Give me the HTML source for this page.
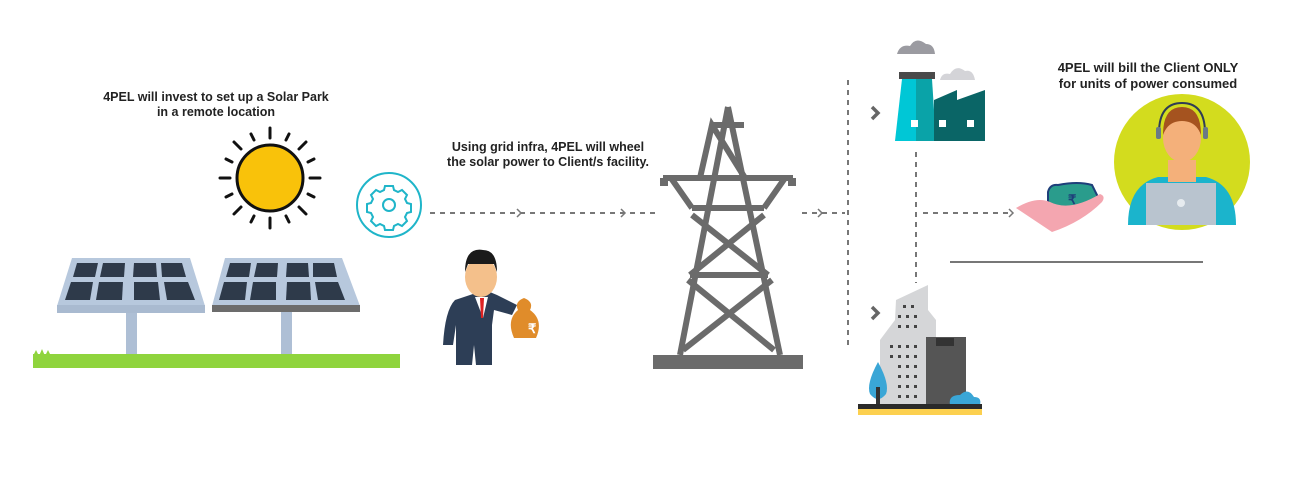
<!DOCTYPE html>
<html><head><meta charset="utf-8"><style>
body{margin:0;background:#fff;}
svg{display:block}
text{font-family:"Liberation Sans",Arial,sans-serif;font-weight:bold;fill:#222;}
</style></head><body>
<svg width="1300" height="500" viewBox="0 0 1300 500" xmlns="http://www.w3.org/2000/svg">
<text x="216" y="101" font-size="12.5" text-anchor="middle">4PEL will invest to set up a Solar Park</text>
<text x="216" y="116" font-size="12.5" text-anchor="middle">in a remote location</text>
<text x="548" y="151" font-size="12.5" text-anchor="middle">Using grid infra, 4PEL will wheel</text>
<text x="548" y="166" font-size="12.5" text-anchor="middle">the solar power to Client/s facility.</text>
<text x="1148" y="72" font-size="13" text-anchor="middle">4PEL will bill the Client ONLY</text>
<text x="1148" y="88" font-size="13" text-anchor="middle">for units of power consumed</text>

<!-- sun -->
<g stroke="#111" stroke-width="3" stroke-linecap="round">
<line x1="270" y1="128" x2="270" y2="138"/><line x1="270" y1="218" x2="270" y2="228"/>
<line x1="220" y1="178" x2="230" y2="178"/><line x1="310" y1="178" x2="320" y2="178"/>
<line x1="234" y1="142" x2="241" y2="149"/><line x1="299" y1="207" x2="306" y2="214"/>
<line x1="234" y1="214" x2="241" y2="207"/><line x1="299" y1="149" x2="306" y2="142"/>
<line x1="251" y1="134" x2="254" y2="140"/><line x1="289" y1="134" x2="286" y2="140"/>
<line x1="251" y1="222" x2="254" y2="216"/><line x1="289" y1="222" x2="286" y2="216"/>
<line x1="226" y1="159" x2="232" y2="162"/><line x1="314" y1="159" x2="308" y2="162"/>
<line x1="226" y1="197" x2="232" y2="194"/><line x1="314" y1="197" x2="308" y2="194"/>
</g>
<circle cx="270" cy="178" r="33" fill="#f9c20a" stroke="#111" stroke-width="3"/>

<!-- gear circle -->
<circle cx="389" cy="205" r="32" fill="#fff" stroke="#1fb5c9" stroke-width="2"/>
<g fill="none" stroke="#1fb5c9" stroke-width="2">
<circle cx="389" cy="205" r="6"/>
<path d="M385 186h8l1 4 4 2 4-2 5 5-2 4 2 4 4 1v8l-4 1-2 4 2 4-5 5-4-2-4 2-1 4h-8l-1-4-4-2-4 2-5-5 2-4-2-4-4-1v-8l4-1 2-4-2-4 5-5 4 2 4-2z"/>
</g>

<!-- solar panels -->
<rect x="126" y="310" width="11" height="50" fill="#aebfd5"/>
<rect x="281" y="310" width="11" height="50" fill="#aebfd5"/>
<polygon points="72,258 190,258 205,306 57,306" fill="#b7c8dd"/>
<rect x="57" y="305" width="148" height="8" fill="#a9bad0"/>
<polygon points="225,258 342,258 360,306 212,306" fill="#b7c8dd"/>
<rect x="212" y="305" width="148" height="7" fill="#6c6c6c"/>
<g fill="#2e3a4a">
<polygon points="77,263 98,263 95,277 73,277"/><polygon points="103,263 125,263 124,277 100,277"/>
<polygon points="134,263 156,263 157,277 133,277"/><polygon points="161,263 182,263 186,277 162,277"/>
<polygon points="71,282 93,282 90,300 65,300"/><polygon points="99,282 123,282 122,300 96,300"/>
<polygon points="134,282 158,282 160,300 134,300"/><polygon points="164,282 188,282 195,300 167,300"/>
<polygon points="230,263 251,263 249,277 226,277"/><polygon points="257,263 278,263 277,277 254,277"/>
<polygon points="287,263 308,263 309,277 286,277"/><polygon points="313,263 334,263 337,277 313,277"/>
<polygon points="224,282 247,282 245,300 219,300"/><polygon points="253,282 276,282 276,300 250,300"/>
<polygon points="287,282 310,282 311,300 286,300"/><polygon points="315,282 338,282 345,300 318,300"/>
</g>
<rect x="33" y="354" width="367" height="14" fill="#8fd43d"/>
<path d="M33 356 l3 -6 3 6 3 -7 3 7 3 -6 3 6" fill="#8fd43d"/>

<!-- businessman -->
<g>
<path d="M455 300 q-10 10 -12 45 l10 0 l3-20 l0 40 h16 l2-20 l2 20 h16 l0-40 l2-15 18 5 5-10 -20-10 -12-5z" fill="#2d3e56"/>
<polygon points="475,297 488,297 483,318" fill="#fff"/>
<polygon points="480,298 484,298 483,318 481,318" fill="#d22"/>
<ellipse cx="481" cy="277" rx="16" ry="20" fill="#f4c08b"/>
<path d="M465 272 q0-25 18-22 q14 0 14 22 l-3-8 q-10 0 -26 0z" fill="#1a1a1a"/>
<path d="M518 310 q-4 -8 6 -12 q10 4 6 12 q14 10 6 28 h-22 q-8-18 4-28z" fill="#e08c2a"/>
<text x="528" y="333" font-size="13" style="fill:#fff">₹</text>
</g>

<!-- dotted connectors -->
<g stroke="#777" stroke-width="2" stroke-dasharray="5,5" fill="none">
<line x1="430" y1="213" x2="660" y2="213"/>
<line x1="802" y1="213" x2="845" y2="213"/>
<line x1="848" y1="80" x2="848" y2="345"/>
<line x1="923" y1="213" x2="1010" y2="213"/>
<line x1="916" y1="152" x2="916" y2="283"/>
</g>
<g stroke="#777" stroke-width="1.5" fill="none">
<path d="M517 209 l4 4 -4 4"/><path d="M621 209 l4 4 -4 4"/><path d="M818 209 l4 4 -4 4"/><path d="M1009 209 l4 4 -4 4"/>
</g>
<g stroke="#666" stroke-width="3.5" fill="none">
<path d="M872 107 l6 6 -6 6"/><path d="M872 307 l6 6 -6 6"/>
</g>

<!-- tower -->
<g stroke="#6b6b6b" stroke-width="6" fill="none">
<path d="M728 107 L680 355 M728 107 L780 355"/>
<path d="M663 178 H793 M671 178 L692 208 M785 178 L764 208 M692 208 H764"/>
<path d="M700 178 L712 125 L745 178 M712 125 H744"/>
<path d="M692 215 L768 275 M764 215 L690 275 M690 275 H768 M688 280 L774 350 M772 280 L683 350"/>
</g>
<rect x="653" y="355" width="150" height="14" fill="#6b6b6b"/>
<rect x="660" y="178" width="8" height="8" fill="#6b6b6b"/><rect x="788" y="178" width="8" height="8" fill="#6b6b6b"/>

<!-- factory -->
<path d="M897 54 q3-10 13-8 q6-10 16 -2 q8 0 9 10z" fill="#9b9ba1"/>
<path d="M940 80 q2-8 10-6 q6-10 15-3 q8-2 10 9z" fill="#d4d4d8"/>
<rect x="899" y="72" width="36" height="7" fill="#4a4a4a"/>
<polygon points="902,79 916,79 916,141 895,141" fill="#00c7d6"/>
<polygon points="916,79 932,79 936,141 916,141" fill="#0aa3a8"/>
<polygon points="934,141 934,100 957,90 957,100 985,90 985,141" fill="#0a6566"/>
<rect x="911" y="120" width="7" height="7" fill="#fff"/><rect x="939" y="120" width="7" height="7" fill="#fff"/><rect x="967" y="120" width="7" height="7" fill="#fff"/>

<!-- building -->
<polygon points="880,340 895,320 896,300 928,285 928,310 936,320 936,345 930,405 880,405" fill="#d5d6d8"/>
<rect x="926" y="337" width="40" height="70" fill="#555"/>
<rect x="936" y="338" width="18" height="8" fill="#333"/>
<g fill="#444">
<rect x="903" y="305" width="3" height="3"/><rect x="911" y="305" width="3" height="3"/>
<rect x="898" y="315" width="3" height="3"/><rect x="906" y="315" width="3" height="3"/><rect x="914" y="315" width="3" height="3"/>
<rect x="898" y="325" width="3" height="3"/><rect x="906" y="325" width="3" height="3"/><rect x="914" y="325" width="3" height="3"/>
<rect x="890" y="345" width="3" height="3"/><rect x="898" y="345" width="3" height="3"/><rect x="906" y="345" width="3" height="3"/><rect x="914" y="345" width="3" height="3"/>
<rect x="890" y="355" width="3" height="3"/><rect x="898" y="355" width="3" height="3"/><rect x="906" y="355" width="3" height="3"/><rect x="914" y="355" width="3" height="3"/>
<rect x="898" y="365" width="3" height="3"/><rect x="906" y="365" width="3" height="3"/><rect x="914" y="365" width="3" height="3"/>
<rect x="898" y="375" width="3" height="3"/><rect x="906" y="375" width="3" height="3"/><rect x="914" y="375" width="3" height="3"/>
<rect x="898" y="385" width="3" height="3"/><rect x="906" y="385" width="3" height="3"/><rect x="914" y="385" width="3" height="3"/>
<rect x="898" y="395" width="3" height="3"/><rect x="906" y="395" width="3" height="3"/><rect x="914" y="395" width="3" height="3"/>
</g>
<path d="M878 362 q-12 22 -8 32 q8 10 16 0 q4 -10 -8 -32z" fill="#3aa6d6"/>
<rect x="876" y="387" width="4" height="20" fill="#333"/>
<path d="M950 405 q-2-10 10-10 q8-8 14 2 q8 0 6 8z" fill="#3aa6d6"/>
<rect x="858" y="404" width="124" height="5" fill="#2a2a2a"/>
<rect x="858" y="409" width="124" height="6" fill="#fcd04f"/>

<!-- hand with money -->
<path d="M1048 192 q2-8 10-7 q20-4 34 0 l6 12 -6 12 q-20 2 -44 0z" fill="#2a9c8c" stroke="#1e3f7a" stroke-width="2"/>
<text x="1068" y="204" font-size="13" style="fill:#1e3f7a">₹</text>
<path d="M1016 208 q20-12 34-6 q20 10 50-8 q6 2 2 8 q-20 20 -50 30 q-12 -8 -36 -24z" fill="#f4a6b0"/>

<!-- client -->
<circle cx="1182" cy="162" r="68" fill="#d3dc1e"/>
<path d="M1128 225 q0-40 30-48 h48 q30 8 30 48z" fill="#1bb4cc"/>
<rect x="1168" y="160" width="28" height="22" fill="#f4b07a"/>
<ellipse cx="1182" cy="138" rx="19" ry="24" fill="#f4b07a"/>
<path d="M1163 135 q0-28 19-28 q19 0 19 28 q-5 -14 -19 -14 q-14 0 -19 14z" fill="#a5531f"/>
<path d="M1159 133 q0-30 23-30 q23 0 23 30" fill="none" stroke="#2f3d55" stroke-width="2"/>
<rect x="1156" y="127" width="5" height="12" rx="2" fill="#6b7a86"/><rect x="1203" y="127" width="5" height="12" rx="2" fill="#6b7a86"/>
<rect x="1146" y="183" width="70" height="42" fill="#b9c4cf"/>
<circle cx="1181" cy="203" r="4" fill="#e6ebef"/>

<line x1="950" y1="262" x2="1203" y2="262" stroke="#777" stroke-width="2"/>
</svg>
</body></html>
